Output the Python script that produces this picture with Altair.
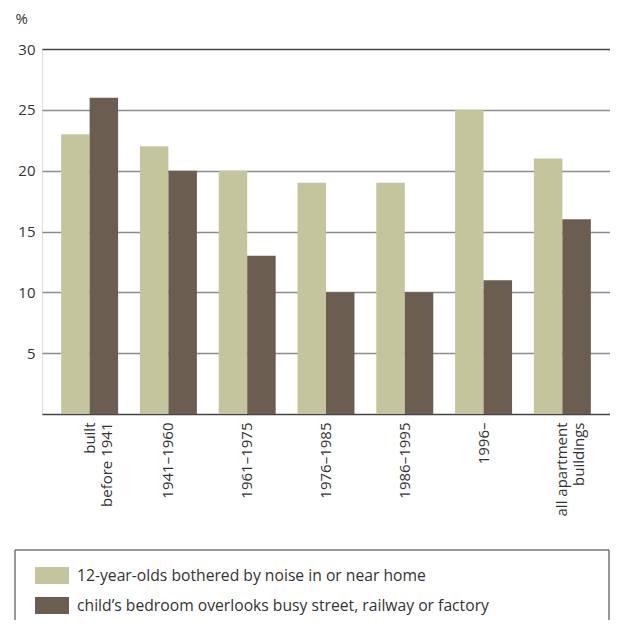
import altair as alt
import pandas as pd

categories = ["built|before 1941", "1941–1960", "1961–1975", "1976–1985",
              "1986–1995", "1996–", "all apartment|buildings"]
series = ["12-year-olds bothered by noise in or near home",
          "child’s bedroom overlooks busy street, railway or factory"]
noise = [23, 22, 20, 19, 19, 25, 21]
bedroom = [26, 20, 13, 10, 10, 11, 16]
colors = ["#c4c59c", "#6b5e50"]
y_ticks = [5, 10, 15, 20, 25, 30]

rows = []
for c, a, b in zip(categories, noise, bedroom):
    rows.append({"cat": c, "series": series[0], "value": a})
    rows.append({"cat": c, "series": series[1], "value": b})
df = pd.DataFrame(rows)

FONT = "Open Sans"
TXT = "#333333"

bars = alt.Chart(df).mark_bar().encode(
    x=alt.X("cat:N", sort=categories,
            scale=alt.Scale(paddingInner=0.277, paddingOuter=0.243),
            axis=alt.Axis(title=None, labelAngle=270, labelPadding=8,
                          labelFontSize=15, labelLineHeight=17,
                          labelExpr="split(datum.label, '|')",
                          ticks=False, domain=True, domainColor="#444444",
                          domainWidth=1.5, labelColor=TXT, labelFont=FONT)),
    xOffset=alt.XOffset("series:N", sort=series,
                        scale=alt.Scale(paddingInner=0, paddingOuter=0)),
    y=alt.Y("value:Q", scale=alt.Scale(domain=[0, 30], nice=False),
            axis=alt.Axis(values=y_ticks, title="%", titleAngle=0,
                          titleX=-27, titleY=-31, titleAlign="left",
                          titleBaseline="middle", titleFontSize=15,
                          titleFontWeight="normal", titleColor=TXT,
                          titleFont=FONT,
                          grid=True, gridWidth=1.5,
                          gridColor={"condition": {"test": "datum.value == 30", "value": "#444444"},
                                     "value": "#8c8c8c"},
                          domain=False, ticks=False, labelPadding=7,
                          labelFontSize=15, labelColor=TXT, labelFont=FONT)),
    color=alt.Color("series:N", sort=series,
                    scale=alt.Scale(domain=series, range=colors),
                    legend=alt.Legend(title=None, orient="none",
                                      legendX=-7, legendY=509.5,
                                      symbolType="M-1,-0.5H1V0.5H-1Z",
                                      symbolSize=1156, symbolStrokeWidth=0,
                                      symbolOpacity=1,
                                      rowPadding=4, labelOffset=8,
                                      labelFontSize=15.7, labelColor=TXT,
                                      labelFont=FONT, labelLimit=600,
                                      padding=0)),
)

box = alt.Chart(pd.DataFrame({"a": [0]})).mark_rect(
    fill=None, stroke="#333333", strokeWidth=1
).encode(x=alt.value(-27), x2=alt.value(567), y=alt.value(501), y2=alt.value(620))

chart = alt.layer(box, bars).properties(
    width=568, height=365,
    autosize=alt.AutoSizeParams(type="none"),
    padding={"left": 34, "top": 41, "right": 0, "bottom": 206},
).configure_view(stroke=None).configure(font=FONT)

chart.save("out.html", embed_options={"renderer": "svg", "actions": False})
